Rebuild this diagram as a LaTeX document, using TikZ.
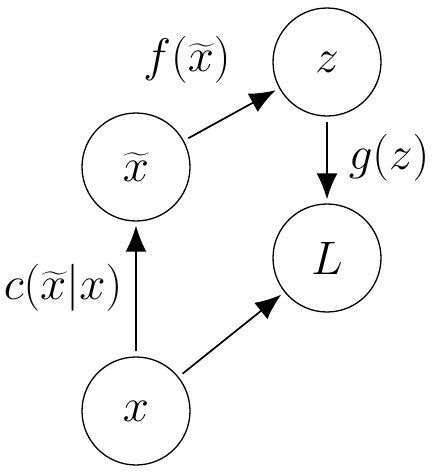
\RequirePackage{fix-cm}
\documentclass[tikz,border=0pt]{standalone}
\usepackage{exscale}
\usetikzlibrary{arrows.meta}
\begin{document}
\begin{tikzpicture}[x=1pt,y=-1pt,
  var/.style={circle,draw,line width=1.3pt,minimum size=108pt,inner sep=0pt,
    font=\fontsize{47}{56}\selectfont},
  lbl/.style={font=\fontsize{47}{56}\selectfont,inner sep=0pt},
  link/.style={line width=1.7pt,-{Latex[length=26pt,width=21pt]},
    shorten <=5pt,shorten >=4pt}]
\useasboundingbox (0,0) rectangle (434,474);
% variables
\node[var] (z)  at (327,62)  {$z$};
\node[var] (xt) at (136,167) {$\widetilde{x}$};
\node[var] (L)  at (327,258) {$L$};
\node[var] (x)  at (136,411) {$x$};
% mappings
\draw[link] (xt) -- (z);
\draw[link] (z) -- (L);
\draw[link] (x) -- (xt);
\draw[link] (x) -- (L);
% labels
\node[lbl] (lf) at (187,60)  {$f(\widetilde{x})$};
\node[lbl] (lg) at (389,158) {$g(z)$};
\node[lbl] (lc) at (63,288)  {$c(\widetilde{x}|x)$};
\end{tikzpicture}
\end{document}
